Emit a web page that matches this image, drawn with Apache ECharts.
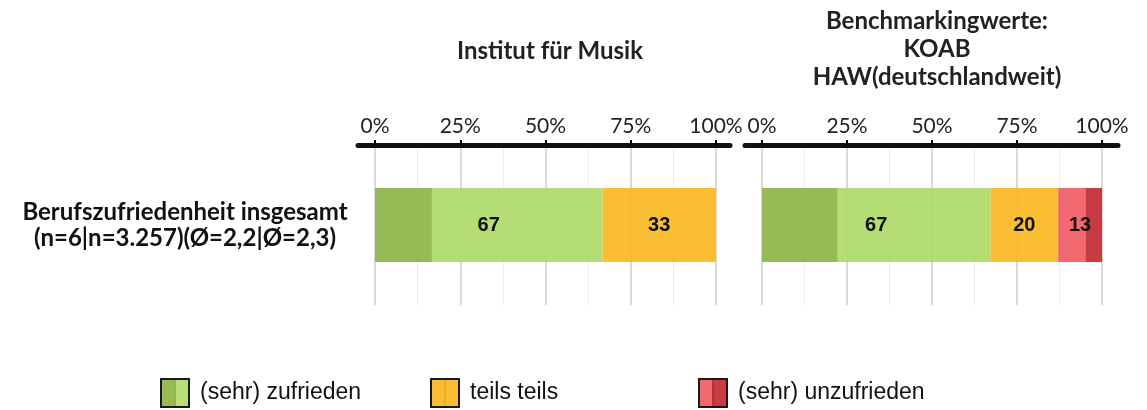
<!DOCTYPE html>
<html>
<head>
<meta charset="utf-8">
<script src="https://cdn.jsdelivr.net/npm/echarts@6/dist/echarts.min.js"></script>
<style>
  html, body { margin: 0; padding: 0; background: #fff; }
  #chart { width: 1147px; height: 410px; }
</style>
</head>
<body>
<div id="chart"></div>
<script>
// data
const categories = ['Berufszufriedenheit insgesamt\n(n=6|n=3.257)(Ø=2,2|Ø=2,3)'];
const panelTitles = ['Institut für Musik', 'Benchmarkingwerte:\nKOAB\nHAW(deutschlandweit)'];
const segmentNames = ['sehr zufrieden', 'zufrieden', 'teils teils', 'unzufrieden', 'sehr unzufrieden'];
const musikValues = [16.7, 50.0, 33.3, 0, 0];
const koabValues = [22.3, 44.9, 19.9, 8.0, 4.9];
const legendNames = ['(sehr) zufrieden', 'teils teils', '(sehr) unzufrieden'];
// label groups: which segments are added up for one printed number
const labelGroups = [[0, 1], [2], [3, 4]];

const barColors = ['#8bb342', '#add967', '#f8b71c', '#f1595f', '#c2262d'];
const iconColors = [['#97bb55', '#b7de78'], ['#f9be33', '#f9be33'], ['#f26a6e', '#c83c42']];
const iconLines = ['#8aae4a', '#e8a820', '#b8202a'];

const lato = 'Lato, "Open Sans", sans-serif';
const arial = '"Liberation Sans", Arial, sans-serif';

const chart = echarts.init(document.getElementById('chart'));

const grids = [
  {left: 375, width: 341, top: 145, height: 160},
  {left: 762, width: 340, top: 145, height: 160},
  // wider grids only for the thick axis line
  {left: 358, width: 372, top: 145, height: 160},
  {left: 745, width: 373, top: 145, height: 160}
];

function dataAxis(i) {
  return {
    type: 'value', gridIndex: i, position: 'top', min: 0, max: 100, interval: 25,
    axisLine: {show: false},
    axisTick: {show: true, length: 5, lineStyle: {color: '#000', width: 2}},
    axisLabel: {formatter: '{value}%', fontFamily: lato, fontSize: 21, color: '#222', margin: 8},
    splitLine: {show: true, lineStyle: {color: '#d9d9d9', width: 2}},
    minorTick: {show: false, splitNumber: 2},
    minorSplitLine: {show: true, lineStyle: {color: '#ececec', width: 1}}
  };
}
function lineAxis(i) {
  return {
    type: 'value', gridIndex: i, position: 'top', min: 0, max: 1,
    axisLine: {show: true, lineStyle: {color: '#111', width: 5, cap: 'round'}},
    axisTick: {show: false}, axisLabel: {show: false}, splitLine: {show: false}
  };
}
function catAxis(i, showLabel) {
  return {
    type: 'category', gridIndex: i, data: categories, inverse: true,
    axisLine: {show: false}, axisTick: {show: false}, splitLine: {show: false},
    axisLabel: {
      show: showLabel, align: 'center', margin: 190,
      fontFamily: lato, fontWeight: 'bold', fontSize: 24, lineHeight: 26, color: '#111'
    }
  };
}

function panelSeries(values, idx) {
  const out = [];
  values.forEach(function (v, k) {
    out.push({
      type: 'bar', name: segmentNames[k], stack: 'seg' + idx,
      xAxisIndex: idx, yAxisIndex: idx, barWidth: 74, barGap: '-100%',
      itemStyle: {color: barColors[k], opacity: 0.9},
      data: [v]
    });
  });
  // transparent bars carrying the summed labels
  labelGroups.forEach(function (g, k) {
    const sum = g.reduce(function (a, j) { return a + values[j]; }, 0);
    out.push({
      type: 'bar', name: 'lbl' + idx + '_' + k, stack: 'lbl' + idx,
      xAxisIndex: idx, yAxisIndex: idx, barWidth: 74, barGap: '-100%', silent: true,
      itemStyle: {color: 'rgba(0,0,0,0)'},
      label: {
        show: sum > 0, position: 'inside', color: '#111',
        fontFamily: arial, fontWeight: 'bold', fontSize: 20,
        formatter: function (p) { return Math.round(p.value); }
      },
      data: [sum]
    });
  });
  return out;
}

// legend drawn as graphic items (two-tone icons with dark frame)
const legendX = [160, 430, 698];
const legendGraphic = [];
legendNames.forEach(function (name, i) {
  const x = legendX[i], y = 378, w = 30, h = 30, b = 2;
  legendGraphic.push(
    {type: 'rect', z: 10, shape: {x: x, y: y, width: w, height: h}, style: {fill: '#1a1a1a'}},
    {type: 'rect', z: 11, shape: {x: x + b, y: y + b, width: w / 2 - b, height: h - 2 * b}, style: {fill: iconColors[i][0]}},
    {type: 'rect', z: 11, shape: {x: x + w / 2, y: y + b, width: w / 2 - b, height: h - 2 * b}, style: {fill: iconColors[i][1]}},
    {type: 'line', z: 12, shape: {x1: x + w / 2, y1: y + b, x2: x + w / 2, y2: y + h - b}, style: {stroke: iconLines[i], lineWidth: 1.5}},
    {type: 'text', z: 12, x: x + w + 10, y: y + h / 2, style: {text: name, font: '23px ' + arial, fill: '#111', verticalAlign: 'middle'}}
  );
});

chart.setOption({
  animation: false,
  title: [
    {text: panelTitles[0], left: 545, top: 34, textAlign: 'center',
     textStyle: {fontFamily: lato, fontWeight: 'bold', fontSize: 24, color: '#222'}},
    {text: panelTitles[1], left: 932, top: 2, textAlign: 'center',
     textStyle: {fontFamily: lato, fontWeight: 'bold', fontSize: 24, lineHeight: 28, color: '#222'}}
  ],
  grid: grids,
  xAxis: [dataAxis(0), dataAxis(1), lineAxis(2), lineAxis(3)],
  yAxis: [catAxis(0, true), catAxis(1, false), catAxis(2, false), catAxis(3, false)],
  series: panelSeries(musikValues, 0).concat(panelSeries(koabValues, 1)),
  graphic: legendGraphic
});
</script>
</body>
</html>
